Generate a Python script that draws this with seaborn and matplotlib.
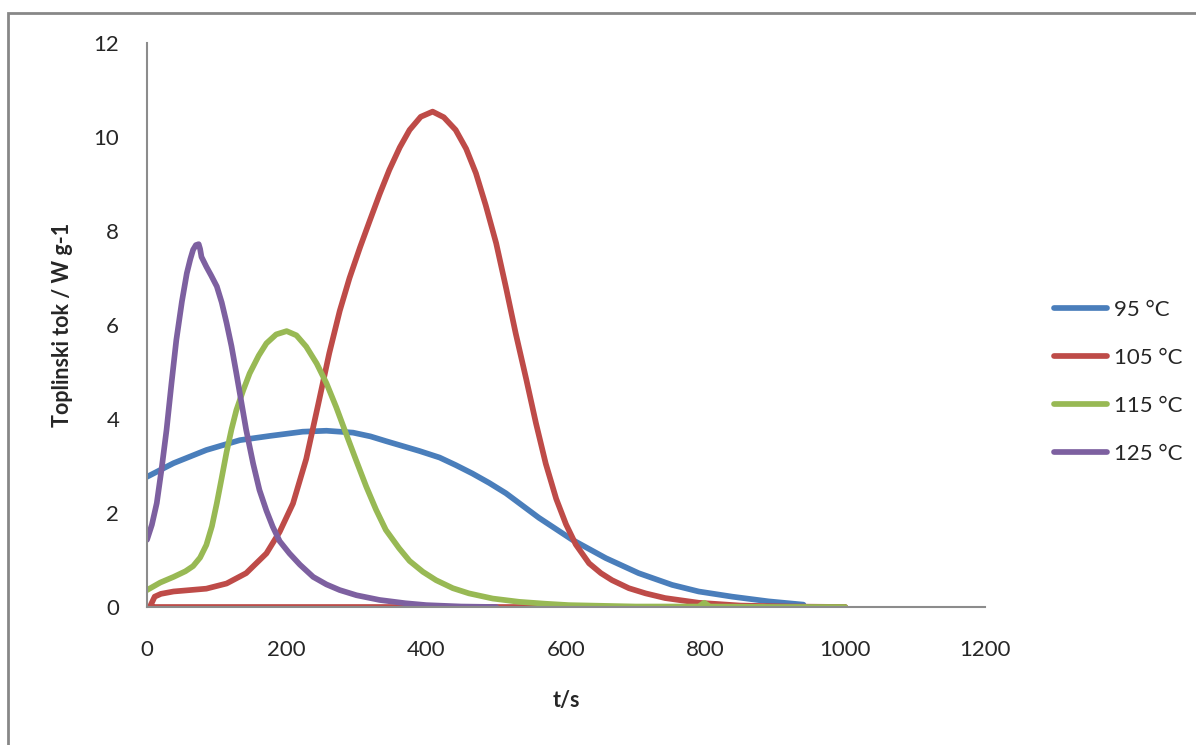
import matplotlib
matplotlib.use("Agg")
import matplotlib.pyplot as plt
from matplotlib.patches import Rectangle
import seaborn as sns
import pandas as pd

# podaci ocitani s grafa (t / s, toplinski tok / W g-1)
labels = ["95 °C", "105 °C", "115 °C", "125 °C"]
colors = ["#4A7EBB", "#BE4B48", "#98B954", "#7D60A0"]

t_95 = [0, 38, 85, 133, 176, 223, 257, 295, 320, 342, 390, 419, 442, 466, 490, 514, 561, 609, 657,
        704, 752, 790, 838, 890, 940]
q_95 = [2.77, 3.06, 3.34, 3.55, 3.64, 3.73, 3.75, 3.71, 3.63, 3.53, 3.32, 3.18, 3.02, 2.84, 2.64,
        2.42, 1.90, 1.43, 1.04, 0.72, 0.47, 0.33, 0.22, 0.12, 0.05]

t_105 = [4, 11, 20, 38, 85, 114, 142, 171, 190, 209, 228, 245, 261, 276, 290, 305, 319, 333, 347,
         362, 376, 392, 409, 425, 442, 457, 471, 485, 500, 514, 528, 543, 557, 571, 586, 600, 614,
         633, 650, 666, 690, 714, 742, 790, 850, 920, 1000, 0]
q_105 = [0, 0.22, 0.28, 0.33, 0.39, 0.50, 0.72, 1.14, 1.60, 2.20, 3.15, 4.30, 5.40, 6.30, 7.00,
         7.65, 8.22, 8.78, 9.30, 9.78, 10.15, 10.43, 10.54, 10.42, 10.15, 9.75, 9.23, 8.55, 7.74,
         6.80, 5.82, 4.85, 3.91, 3.05, 2.30, 1.76, 1.33, 0.93, 0.72, 0.57, 0.40, 0.29, 0.19, 0.09,
         0.03, 0.01, 0, 0]

t_115 = [0, 19, 38, 55, 66, 76, 85, 93, 100, 107, 114, 121, 128, 138, 147, 160, 171, 185, 200, 214,
         228, 243, 257, 271, 285, 300, 314, 328, 342, 361, 376, 395, 414, 438, 461, 495, 533, 570,
         604, 700, 790, 798, 806, 900, 1000]
q_115 = [0.36, 0.52, 0.64, 0.76, 0.87, 1.05, 1.32, 1.72, 2.21, 2.75, 3.30, 3.78, 4.19, 4.62, 4.97,
         5.35, 5.61, 5.80, 5.87, 5.78, 5.54, 5.18, 4.76, 4.25, 3.69, 3.10, 2.56, 2.07, 1.64, 1.25,
         0.98, 0.75, 0.57, 0.40, 0.29, 0.18, 0.11, 0.07, 0.04, 0.01, 0.01, 0.09, 0.01, 0, 0]

t_125 = [0, 7, 14, 21, 28, 35, 42, 50, 57, 62, 66, 70, 74, 76, 78, 85, 92, 100, 107, 114, 121, 128,
         135, 142, 152, 161, 171, 180, 190, 204, 219, 238, 257, 276, 300, 333, 370, 400, 450, 500]
q_125 = [1.43, 1.75, 2.21, 2.95, 3.77, 4.75, 5.68, 6.50, 7.10, 7.40, 7.60, 7.70, 7.72, 7.62, 7.45,
         7.24, 7.05, 6.82, 6.48, 6.04, 5.55, 4.97, 4.37, 3.77, 3.05, 2.49, 2.05, 1.71, 1.40, 1.14,
         0.90, 0.64, 0.48, 0.36, 0.25, 0.15, 0.08, 0.04, 0.01, 0]

x_ticks = [0, 200, 400, 600, 800, 1000, 1200]
y_ticks = [0, 2, 4, 6, 8, 10, 12]

frames = []
for lab, t, q in zip(labels, [t_95, t_105, t_115, t_125], [q_95, q_105, q_115, q_125]):
    frames.append(pd.DataFrame({"t": t, "q": q, "serija": lab}))
df = pd.concat(frames, ignore_index=True)

sns.set_style("white")
plt.rcParams["font.family"] = ["Lato", "DejaVu Sans"]

fig = plt.figure(figsize=(11.96, 7.45), dpi=100)
ax = fig.add_axes([147 / 1196, 1 - 607 / 745, 838 / 1196, 564 / 745])

sns.lineplot(data=df, x="t", y="q", hue="serija", hue_order=labels, palette=colors,
             sort=False, estimator=None, linewidth=4.1, ax=ax)
for line in ax.get_lines():
    line.set_solid_joinstyle("round")
    line.set_solid_capstyle("round")

ax.set_xlim(0, 1200)
ax.set_ylim(0, 12)
ax.set_xticks(x_ticks)
ax.set_yticks(y_ticks)
ax.tick_params(axis="x", length=0, pad=24, labelsize=16)
ax.tick_params(axis="y", length=0, pad=20, labelsize=16)

for side in ["top", "right"]:
    ax.spines[side].set_visible(False)
for side in ["left", "bottom"]:
    ax.spines[side].set_color("#8C8C8C")
    ax.spines[side].set_linewidth(1.5)

ax.set_xlabel("t/s", fontsize=15.5, fontweight="bold")
ax.set_ylabel("Toplinski tok / W g-1", fontsize=15.5, fontweight="bold")
ax.xaxis.set_label_coords(0.5, -0.148)
ax.yaxis.set_label_coords(-0.088, 0.5)

leg = ax.legend(loc="center left", bbox_to_anchor=(1043 / 1196, 1 - 382 / 745),
                bbox_transform=fig.transFigure, frameon=False, fontsize=16,
                handlelength=2.4, handletextpad=0.3, labelspacing=1.26, borderpad=0)
for h in leg.get_lines():
    h.set_linewidth(4.1)

# okvir oko grafa
fig.add_artist(Rectangle((8 / 1196, -0.05), 1.2, 1 - 13 / 745 + 0.05, transform=fig.transFigure,
                         fill=False, edgecolor="#878787", linewidth=2))

fig.savefig("out.png", dpi=100)
